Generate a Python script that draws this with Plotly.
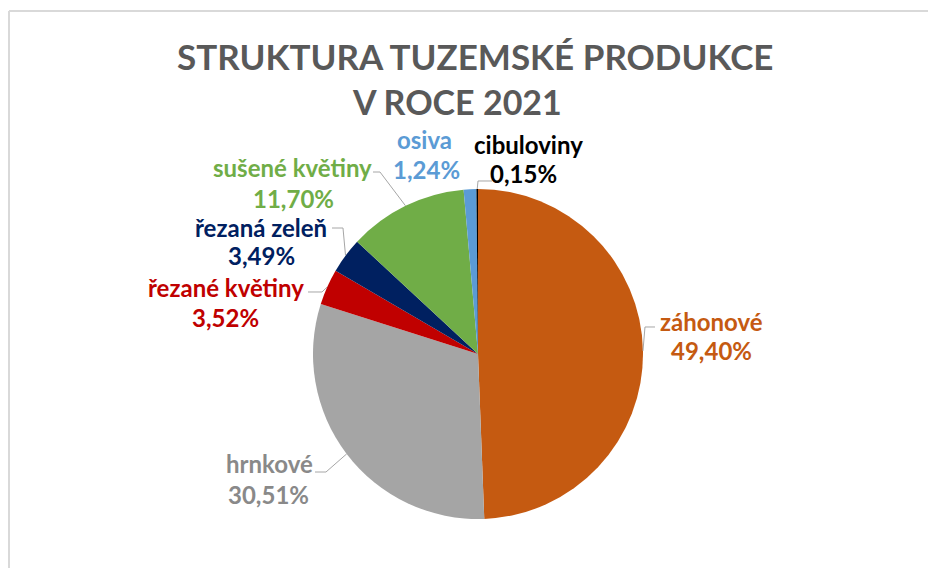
import math
import plotly.graph_objects as go

W, H = 928, 568

labels = ["záhonové", "hrnkové", "řezané květiny", "řezaná zeleň",
          "sušené květiny", "osiva", "cibuloviny"]
shares = [49.40, 30.51, 3.52, 3.49, 11.70, 1.24, 0.15]
slice_colors = ["#C55A11", "#A5A5A5", "#C00000", "#002060",
                "#70AD47", "#5B9BD5", "#000000"]
text_colors = ["#C55A11", "#898989", "#C00000", "#002060",
               "#70AD47", "#5B9BD5", "#000000"]
title_lines = ["STRUKTURA TUZEMSKÉ PRODUKCE", "V ROCE 2021"]

# pie placement in pixels
CX, CY, R = 478, 354, 165

# label line centres (name line, percent line) and leader elbows, in pixels
name_xy = [(711, 321), (269, 463), (226, 287), (261, 227),
           (292, 167), (424, 139), (528, 144)]
pct_xy = [(711, 350), (268, 494), (225, 317), (261, 255),
          (293, 198), (426, 169), (523, 174)]
leaders = [
    [(645, 327), (655, 327)],
    [(326, 472), (315, 472)],
    [(322, 292), (308, 292)],
    [(343, 228), (332, 228)],
    [(380, 172), (373, 172)],
    None,
    [(478, 181), (492, 181)],
]


def px(x):
    return x / W


def py(y):
    return 1 - y / H


def fmt(v):
    return f"{v:.2f}".replace(".", ",") + "%"


def label(x, y, text, color, size):
    fig.add_annotation(
        x=px(x), y=py(y), xref="paper", yref="paper", text=text,
        showarrow=False, xanchor="center", yanchor="middle",
        font=dict(family="Lato", size=size, weight=700, color=color),
    )


fig = go.Figure(go.Pie(
    labels=labels,
    values=shares,
    sort=False,
    direction="clockwise",
    rotation=0,
    textinfo="none",
    marker=dict(colors=slice_colors, line=dict(width=0)),
    domain=dict(x=[px(CX - R), px(CX + R)], y=[py(CY + R), py(CY - R)]),
    showlegend=False,
    hovertemplate="%{label}: %{value:.2f}%<extra></extra>",
))

# data labels with leader lines
total = sum(shares)
cum = 0.0
for i, v in enumerate(shares):
    ang = math.radians((cum + v / 2) / total * 360)
    cum += v
    ex, ey = CX + R * math.sin(ang), CY - R * math.cos(ang)
    label(*name_xy[i], labels[i], text_colors[i], 24)
    label(*pct_xy[i], fmt(v), text_colors[i], 24)
    if leaders[i]:
        pts = [(ex, ey)] + leaders[i]
        path = "M " + " L ".join(f"{px(a):.5f},{py(b):.5f}" for a, b in pts)
        fig.add_shape(type="path", path=path, xref="paper", yref="paper",
                      line=dict(color="#A6A6A6", width=1))

# title, two lines
label(475, 56, title_lines[0], "#595959", 35)
label(457, 101, title_lines[1], "#595959", 34)

# chart-area border (top and left edges visible)
fig.add_shape(type="line", xref="paper", yref="paper",
              x0=px(9), x1=1, y0=py(11), y1=py(11),
              line=dict(color="#D9D9D9", width=2))
fig.add_shape(type="line", xref="paper", yref="paper",
              x0=px(9), x1=px(9), y0=py(11), y1=0,
              line=dict(color="#D9D9D9", width=2))

fig.update_layout(
    width=W, height=H,
    margin=dict(l=0, r=0, t=0, b=0),
    paper_bgcolor="white",
    plot_bgcolor="white",
)

fig.write_html("out.html", config={"displayModeBar": False},
               post_script="document.body.style.margin='0px';")
